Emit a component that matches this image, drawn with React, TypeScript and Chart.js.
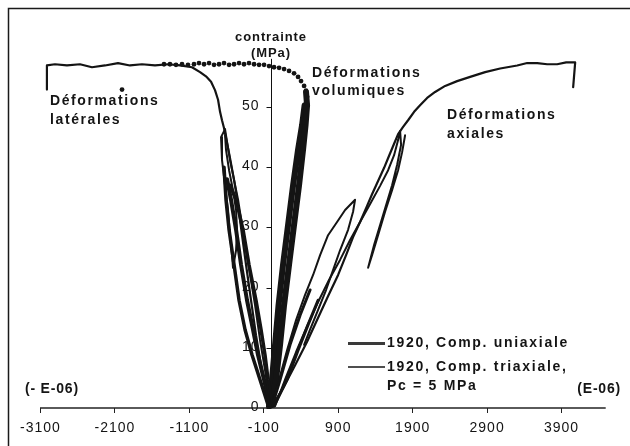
import React, { useEffect, useRef } from "react";
import { Chart, registerables } from "chart.js";

Chart.register(...registerables);

// Axis ticks
const xTicks = [-3100, -2100, -1100, -100, 900, 1900, 2900, 3900];
const yTicks = [0, 10, 20, 30, 40, 50];
const yAxisTop = 58;

// 1920, Comp. uniaxiale — lateral strain envelope (x: µdef, y: MPa)
const uniLateral: [number, number][] = [
  [0, 0], [-63, 3.0], [-130, 7.1], [-198, 12.1], [-265, 17.9], [-332, 23.8], [-386, 28.7],
  [-439, 33.7], [-493, 37.9], [-547, 41.5], [-601, 44.9], [-628, 46.5], [-655, 47.8],
  [-681, 49.2], [-708, 51.2], [-749, 52.8], [-802, 54.2], [-870, 55.1], [-950, 55.8],
  [-1058, 56.6], [-1219, 56.9], [-1380, 57.1], [-1555, 56.9], [-1730, 57.1], [-1891, 56.9],
  [-2052, 57.3], [-2227, 56.9], [-2402, 56.6], [-2563, 57.1], [-2738, 56.9], [-2899, 57.1],
  [-3007, 56.9], [-3007, 52.9],
];

// 1920, Comp. uniaxiale — axial strain envelope
const uniAxial: [number, number][] = [
  [0, 0], [165, 3.3], [327, 7.1], [488, 11.0], [636, 15.0], [771, 18.6], [905, 22.1],
  [1012, 25.4], [1106, 28.4], [1200, 30.9], [1281, 33.2], [1361, 35.5], [1442, 37.7],
  [1523, 39.9], [1590, 41.9], [1657, 43.9], [1711, 45.5], [1778, 46.7], [1845, 47.8],
  [1926, 49.2], [2006, 50.3], [2101, 51.5], [2208, 52.5], [2343, 53.5], [2504, 54.3],
  [2679, 55.0], [2880, 55.8], [3082, 56.4], [3311, 56.9], [3445, 57.3], [3580, 57.3],
  [3714, 57.1], [3848, 57.1], [3969, 57.4], [4090, 57.4], [4063, 53.3],
];

// 1920, Comp. triaxiale (Pc = 5 MPa) — cyclic paths
const triLateralLoop: [number, number][] = [
  [-614, 46.3], [-668, 45.0], [-655, 41.2], [-614, 37.0], [-574, 32.9], [-547, 28.7],
  [-520, 25.4], [-507, 23.3], [-466, 26.2], [-453, 29.6], [-466, 32.9], [-507, 36.2],
  [-560, 39.5], [-601, 42.9], [-614, 45.3],
];
const triLateralA: [number, number][] = [
  [-614, 46.3], [-587, 44.2], [-547, 41.2], [-493, 37.9], [-439, 34.6], [-386, 30.4],
  [-332, 26.2], [-278, 22.1], [-211, 17.1], [-144, 11.3], [-77, 6.3], [-9, 0.5],
];
const triLateralB1: [number, number][] = [
  [-628, 40.0], [-601, 34.6], [-560, 29.6], [-493, 23.8], [-426, 17.9], [-345, 13.0],
  [-251, 8.8], [-144, 4.7], [-36, 0.5],
];
const triLateralB2: [number, number][] = [
  [-587, 38.0], [-534, 34.6], [-466, 29.6], [-399, 23.8], [-319, 17.9], [-238, 13.0],
  [-171, 8.8], [-90, 4.7], [-9, 0.3],
];
const triLateralB3: [number, number][] = [
  [-547, 37.0], [-466, 34.6], [-372, 29.6], [-292, 23.8], [-198, 17.9], [-130, 13.0],
  [-77, 8.8], [-36, 4.7], [17, 0.3],
];
const triAxialA: [number, number][] = [
  [17, 0.3], [112, 4.7], [219, 9.6], [340, 14.6], [461, 18.8], [569, 22.1], [663, 25.4],
  [770, 28.7], [891, 30.9], [999, 32.9], [1133, 34.6], [1106, 32.6], [1039, 29.6],
  [931, 26.2], [837, 22.9], [743, 19.6], [636, 16.3], [528, 13.0], [448, 10.5],
];
const triAxialB: [number, number][] = [
  [58, 0.3], [192, 4.7], [340, 9.3], [488, 13.6], [636, 17.6], [784, 21.3], [931, 24.6],
  [1066, 27.9], [1200, 30.9], [1335, 33.9], [1469, 36.9], [1577, 39.5], [1657, 42.0],
  [1711, 44.5], [1738, 46.0], [1751, 43.7], [1698, 40.4], [1630, 37.0], [1550, 33.7],
  [1469, 30.4], [1389, 27.1], [1308, 23.3], [1361, 25.4], [1442, 28.7], [1536, 32.6],
  [1630, 36.2], [1711, 39.5], [1765, 42.5], [1805, 45.3],
];
const triAxialC1: [number, number][] = [
  [17, 0.3], [125, 4.7], [259, 10.5], [394, 15.4], [528, 19.6],
];
const triAxialC2: [number, number][] = [
  [44, 0.3], [219, 4.7], [367, 9.6], [501, 13.8], [636, 17.9],
];

// Volumetric strain
const volBandA: [number, number][] = [
  [0, 0.3], [71, 4.7], [125, 10.5], [179, 17.1], [246, 23.8], [313, 30.4], [380, 37.0],
  [434, 42.9], [468, 47.0], [488, 50.3], [474, 52.5],
];
const volBandB: [number, number][] = [
  [-23, 0.3], [17, 4.7], [58, 10.5], [105, 17.1], [165, 23.8], [233, 30.4], [300, 37.0],
  [367, 42.9], [421, 47.0], [455, 50.3],
];
const volDots: [number, number][] = [
  [474, 49.2], [488, 50.5], [488, 51.7], [474, 52.7], [448, 53.5], [407, 54.3], [367, 55.0],
  [313, 55.6], [246, 56.0], [179, 56.3], [112, 56.5], [44, 56.6], [-23, 56.8], [-90, 57.0],
  [-157, 57.0], [-224, 57.1], [-292, 57.3], [-359, 57.1], [-426, 57.3], [-493, 57.1],
  [-560, 57.0], [-628, 57.3], [-695, 57.1], [-762, 57.0], [-829, 57.3], [-896, 57.1],
  [-964, 57.3], [-1031, 57.1], [-1112, 57.0], [-1192, 57.1], [-1273, 57.0], [-1354, 57.1],
  [-1434, 57.1], [-1998, 52.9],
];

const pts = (arr: [number, number][]) => arr.map(([x, y]) => ({ x, y }));

const INK = "#141414";
const FONT = '"Liberation Sans", Arial, sans-serif';

const line = (data: [number, number][], width: number, color = INK) => ({
  data: pts(data),
  showLine: true,
  borderColor: color,
  borderWidth: width,
  borderJoinStyle: "round",
  borderCapStyle: "round",
  pointRadius: 0,
  fill: false,
  tension: 0,
});

const axesPlugin = {
  id: "customAxes",
  beforeDatasetsDraw(chart: any) {
    const { ctx } = chart;
    const xs = chart.scales.x;
    const ys = chart.scales.y;
    const yb = ys.getPixelForValue(0);
    const xa = Math.round(xs.getPixelForValue(0)) + 0.5;
    ctx.save();
    // frame
    ctx.strokeStyle = "#1a1a1a";
    ctx.lineWidth = 1.5;
    ctx.beginPath();
    ctx.moveTo(8.5, 446);
    ctx.lineTo(8.5, 8.5);
    ctx.lineTo(630, 8.5);
    ctx.stroke();
    // x axis
    ctx.strokeStyle = "#5a5a5a";
    ctx.lineWidth = 2;
    ctx.beginPath();
    ctx.moveTo(xs.left, yb);
    ctx.lineTo(xs.right, yb);
    ctx.stroke();
    ctx.strokeStyle = "#222";
    ctx.lineWidth = 1;
    xTicks.forEach((v) => {
      const px = Math.round(xs.getPixelForValue(v)) + 0.5;
      ctx.beginPath();
      ctx.moveTo(px, yb);
      ctx.lineTo(px, yb + 5);
      ctx.stroke();
    });
    ctx.fillStyle = INK;
    ctx.font = `14px ${FONT}`;
    (ctx as any).letterSpacing = "1px";
    ctx.textAlign = "center";
    ctx.textBaseline = "middle";
    xTicks.forEach((v) => ctx.fillText(String(v), xs.getPixelForValue(v) + 0.5, yb + 20));
    // y axis
    ctx.strokeStyle = "#111";
    ctx.lineWidth = 1;
    ctx.beginPath();
    ctx.moveTo(xa, yb);
    ctx.lineTo(xa, ys.getPixelForValue(yAxisTop));
    ctx.stroke();
    ctx.textAlign = "right";
    yTicks.forEach((v) => {
      const py = Math.round(ys.getPixelForValue(v)) + 0.5;
      ctx.beginPath();
      ctx.moveTo(xa - 5, py);
      ctx.lineTo(xa, py);
      ctx.stroke();
      ctx.fillText(String(v), xa - 12, py - 1);
    });
    ctx.restore();
  },
  afterDatasetsDraw(chart: any) {
    const { ctx } = chart;
    ctx.save();
    ctx.fillStyle = INK;
    ctx.textBaseline = "middle";
    const txt = (s: string, x: number, y: number, size: number, spacing: number, align: CanvasTextAlign = "left") => {
      ctx.font = `bold ${size}px ${FONT}`;
      (ctx as any).letterSpacing = `${spacing}px`;
      ctx.textAlign = align;
      ctx.fillText(s, x, y);
    };
    txt("contrainte", 271, 37, 13, 0.9, "center");
    txt("(MPa)", 271, 53, 13, 0.9, "center");
    txt("Déformations", 50, 101, 14, 1.6);
    txt("latérales", 50, 120, 14, 1.6);
    txt("Déformations", 312, 73, 14, 1.6);
    txt("volumiques", 312, 91, 14, 1.6);
    txt("Déformations", 447, 115, 14, 1.6);
    txt("axiales", 447, 134, 14, 1.6);
    txt("(- E-06)", 25, 389, 14, 0.8);
    txt("(E-06)", 621, 389, 14, 0.8, "right");
    // legend
    ctx.strokeStyle = "#3a3a3a";
    ctx.lineWidth = 3;
    ctx.beginPath();
    ctx.moveTo(348, 343.5);
    ctx.lineTo(385, 343.5);
    ctx.stroke();
    ctx.strokeStyle = INK;
    ctx.lineWidth = 1.5;
    ctx.beginPath();
    ctx.moveTo(348, 367);
    ctx.lineTo(385, 367);
    ctx.stroke();
    txt("1920, Comp. uniaxiale", 387, 343, 14, 1.7);
    txt("1920, Comp. triaxiale,", 387, 367, 14, 1.7);
    txt("Pc = 5 MPa", 387, 386, 14, 1.7);
    ctx.restore();
  },
};

export default function App() {
  const ref = useRef<HTMLCanvasElement | null>(null);
  useEffect(() => {
    document.body.style.margin = "0";
    const canvas = ref.current;
    if (!canvas) return;
    const chart = new Chart(canvas, {
      type: "scatter",
      data: {
        datasets: [
          { label: "1920, Comp. uniaxiale", ...line(uniLateral, 2.2) },
          { label: "1920, Comp. uniaxiale (axiale)", ...line(uniAxial, 2.2) },
          { label: "1920, Comp. triaxiale, Pc = 5 MPa", ...line(triLateralLoop, 2) },
          { label: "tri lat A", ...line(triLateralA, 2) },
          { label: "tri lat B1", ...line(triLateralB1, 3.5) },
          { label: "tri lat B2", ...line(triLateralB2, 4) },
          { label: "tri lat B3", ...line(triLateralB3, 3.5) },
          { label: "tri ax A", ...line(triAxialA, 2) },
          { label: "tri ax B", ...line(triAxialB, 2) },
          { label: "tri ax C1", ...line(triAxialC1, 3) },
          { label: "tri ax C2", ...line(triAxialC2, 3) },
          { label: "vol A", ...line(volBandA, 6) },
          { label: "vol B", ...line(volBandB, 6) },
          {
            label: "vol dots",
            data: pts(volDots),
            showLine: false,
            pointRadius: 2.4,
            pointBackgroundColor: INK,
            pointBorderColor: INK,
            pointBorderWidth: 0,
          },
        ],
      },
      options: {
        animation: false,
        responsive: false,
        devicePixelRatio: 1,
        layout: { padding: { left: 40, right: 24.3, top: 46.8, bottom: 38 } },
        plugins: { legend: { display: false }, tooltip: { enabled: false } },
        scales: {
          x: { type: "linear", min: -3100, max: 4500, display: false },
          y: { type: "linear", min: 0, max: 60, display: false },
        },
      },
      plugins: [axesPlugin],
    } as any);
    return () => chart.destroy();
  }, []);
  return (
    <div style={{ width: 630, height: 446, background: "#fff" }}>
      <canvas ref={ref} width={630} height={446} style={{ display: "block" }} />
    </div>
  );
}
